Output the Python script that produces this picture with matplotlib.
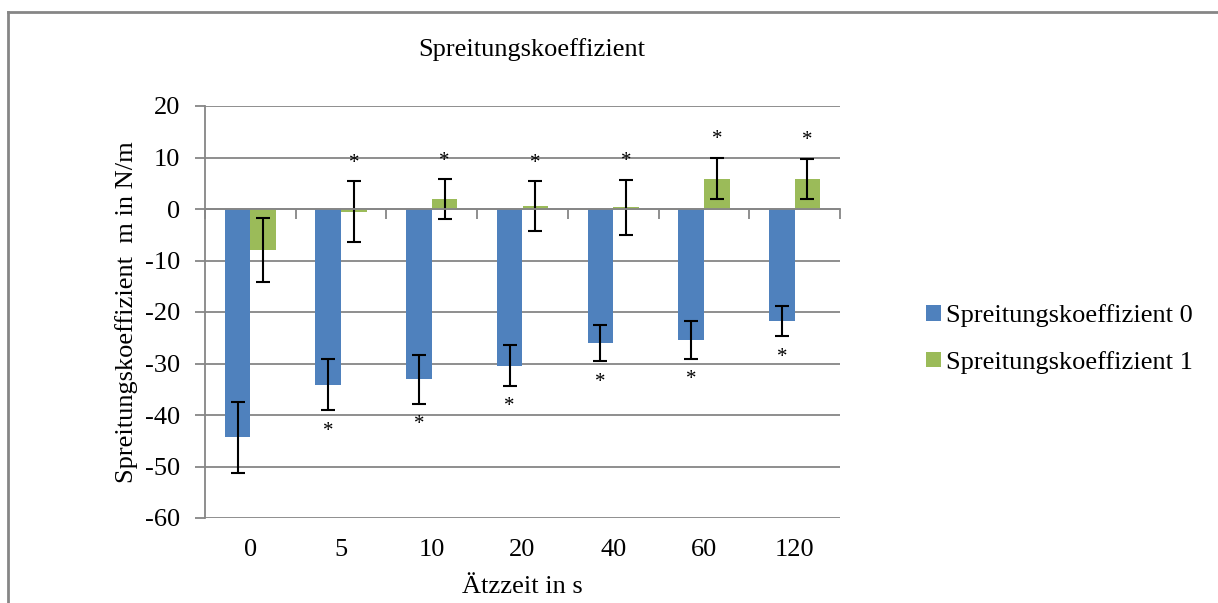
import matplotlib
matplotlib.use("Agg")
import matplotlib.pyplot as plt
import numpy as np
from matplotlib.lines import Line2D

plt.rcParams['font.family'] = ['Liberation Serif', 'DejaVu Serif']
plt.rcParams['axes.unicode_minus'] = False

categories = ['0', '5', '10', '20', '40', '60', '120']
series_names = ['Spreitungskoeffizient 0', 'Spreitungskoeffizient 1']
values0 = [-44.3, -34.1, -33.1, -30.4, -26.1, -25.4, -21.8]
errors0 = [6.9, 5.0, 4.7, 4.0, 3.5, 3.7, 2.95]
values1 = [-8.0, -0.5, 1.9, 0.5, 0.3, 5.9, 5.8]
errors1 = [6.2, 5.9, 3.9, 4.85, 5.4, 4.0, 3.9]
stars0 = [False, True, True, True, True, True, True]
stars1 = [False, True, True, True, True, True, True]

title = 'Spreitungskoeffizient'
xlabel = 'Ätzzeit in s'
ylabel = 'Spreitungskoeffizient  m in N/m'
yticks = [20, 10, 0, -10, -20, -30, -40, -50, -60]

blue = '#4F81BD'
green = '#9BBB59'
gray = '#868686'
fs = 19

W, H = 1218, 603
fig = plt.figure(figsize=(W / 100, H / 100), dpi=100)
ax = fig.add_axes([205 / W, (H - 518) / H, (840 - 205) / W, (518 - 106) / H])

x = np.arange(len(categories))
w = 0.283
ekw = dict(ecolor='black', elinewidth=1.5, capsize=5, capthick=1.5)
ax.bar(x - w / 2, values0, w, color=blue, label=series_names[0], zorder=3,
       yerr=errors0, error_kw=ekw)
ax.bar(x + w / 2, values1, w, color=green, label=series_names[1], zorder=3,
       yerr=errors1, error_kw=ekw)

for i in range(len(categories)):
    if stars0[i]:
        ax.annotate('*', (x[i] - w / 2, values0[i] - errors0[i]), xytext=(0, -15),
                    textcoords='offset points', ha='center', va='center', fontsize=15)
    if stars1[i]:
        ax.annotate('*', (x[i] + w / 2, values1[i] + errors1[i]), xytext=(0, 13),
                    textcoords='offset points', ha='center', va='center', fontsize=15)

ax.set_xlim(-0.5, len(categories) - 0.5)
ax.set_ylim(-60, 20)
ax.set_yticks(yticks)
ax.yaxis.grid(True, color=gray, linewidth=1.3, zorder=0)
ax.set_axisbelow(True)

for s in ['right', 'bottom']:
    ax.spines[s].set_visible(False)
ax.spines['left'].set_color(gray)
ax.spines['left'].set_linewidth(1.3)
ax.spines['top'].set_position(('data', 0))
ax.spines['top'].set_color(gray)
ax.spines['top'].set_linewidth(1.3)
ax.spines['top'].set_zorder(4)

ax.set_xticks(x)
ax.set_xticklabels(categories)
ax.set_xticks(np.arange(len(categories) + 1) - 0.5, minor=True)
ax.tick_params(axis='x', which='major', length=0, pad=15, labelsize=fs, top=False, bottom=True)
ax.tick_params(axis='x', which='minor', top=True, bottom=False, direction='in',
               length=7, width=1.3, color=gray, labelbottom=False)
ax.tick_params(axis='y', length=7, width=1.3, color=gray, pad=11, labelsize=fs)

ax.set_xlabel(xlabel, fontsize=fs, labelpad=11)
ax.set_ylabel(ylabel, fontsize=fs, labelpad=4.5)
fig.text(532 / W, 1 - 50 / H, title, ha='center', va='center', fontsize=fs)

ax.legend(loc='center left', bbox_to_anchor=(926 / W, 1 - 339 / H), bbox_transform=fig.transFigure,
          frameon=False, fontsize=fs, handlelength=0.55, handleheight=0.55,
          handletextpad=0.2, labelspacing=0.9, borderpad=0, borderaxespad=0)

# outer chart border
fig.add_artist(Line2D([8 / W, 8 / W], [0, 1 - 12 / H], color=gray, linewidth=2, transform=fig.transFigure))
fig.add_artist(Line2D([8 / W, 1], [1 - 12 / H, 1 - 12 / H], color=gray, linewidth=2, transform=fig.transFigure))

fig.savefig('out.png', dpi=100)
